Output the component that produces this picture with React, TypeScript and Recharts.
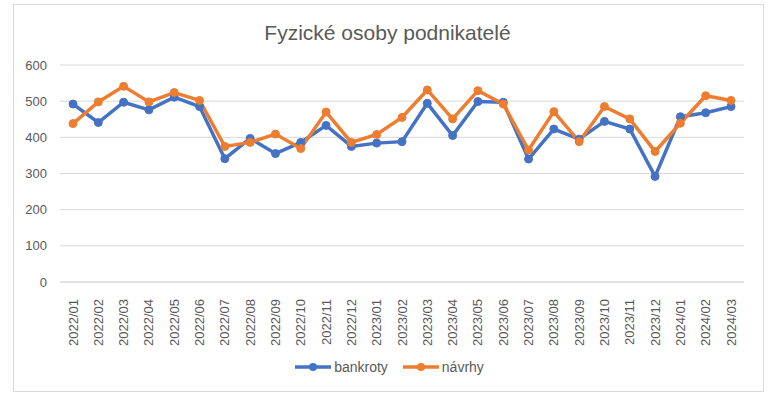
import { LineChart, Line, XAxis, YAxis, CartesianGrid, Legend } from 'recharts';

const months = [
  '2022/01', '2022/02', '2022/03', '2022/04', '2022/05', '2022/06', '2022/07', '2022/08', '2022/09',
  '2022/10', '2022/11', '2022/12', '2023/01', '2023/02', '2023/03', '2023/04', '2023/05', '2023/06',
  '2023/07', '2023/08', '2023/09', '2023/10', '2023/11', '2023/12', '2024/01', '2024/02', '2024/03',
];

const bankroty = [
  492, 441, 497, 476, 511, 485, 341, 397, 355,
  386, 433, 375, 384, 388, 494, 405, 499, 497,
  340, 423, 395, 444, 423, 292, 457, 468, 485,
];

const navrhy = [
  438, 498, 541, 498, 524, 502, 375, 386, 409,
  369, 470, 386, 408, 455, 531, 451, 529, 492,
  365, 471, 388, 485, 451, 361, 439, 515, 502,
];

const yTicks = [0, 100, 200, 300, 400, 500, 600];

const FONT = '"Liberation Sans", Arial, sans-serif';
const TEXT = '#595959';
const BLUE = '#4472C4';
const ORANGE = '#ED7D31';

const data = months.map((m, i) => ({ month: m, bankroty: bankroty[i], navrhy: navrhy[i] }));

function MonthTick(props: any) {
  const { x, y, payload } = props;
  return (
    <text
      transform={`translate(${x},${y + 9}) rotate(-90)`}
      textAnchor="end"
      dy="0.35em"
      fontSize={13}
      fontFamily={FONT}
      fill={TEXT}
    >
      {payload.value}
    </text>
  );
}

function LegendContent() {
  const items = [
    { label: 'bankroty', color: BLUE },
    { label: 'návrhy', color: ORANGE },
  ];
  return (
    <div
      style={{
        display: 'flex',
        justifyContent: 'center',
        gap: 14,
        paddingTop: 7,
        marginLeft: 34,
        fontFamily: FONT,
        fontSize: 14,
        color: TEXT,
      }}
    >
      {items.map(it => (
        <div key={it.label} style={{ display: 'flex', alignItems: 'center' }}>
          <svg width={38} height={12}>
            <line x1={1} y1={6} x2={37} y2={6} stroke={it.color} strokeWidth={3.5} />
            <circle cx={19} cy={6} r={4} fill={it.color} />
          </svg>
          <span style={{ marginLeft: 2 }}>{it.label}</span>
        </div>
      ))}
    </div>
  );
}

export default function App() {
  return (
    <div style={{ position: 'absolute', left: 0, top: 0, width: 775, height: 397, background: '#fff' }}>
      <div
        style={{
          position: 'absolute',
          left: 13,
          top: 4,
          width: 749,
          height: 386,
          border: '1px solid #d9d9d9',
        }}
      />
      <div
        style={{
          position: 'absolute',
          left: 0,
          top: 21,
          width: 775,
          textAlign: 'center',
          fontFamily: FONT,
          fontSize: 21,
          color: TEXT,
        }}
      >
        Fyzické osoby podnikatelé
      </div>
      <div style={{ position: 'absolute', left: 0, top: 0 }}>
        <LineChart width={775} height={397} data={data} margin={{ top: 65, right: 31, left: 0, bottom: 15 }}>
          <CartesianGrid vertical={false} stroke="#d9d9d9" />
          <XAxis
            dataKey="month"
            interval={0}
            height={70}
            padding={{ left: 13, right: 13 }}
            tick={<MonthTick />}
            tickLine={false}
            axisLine={{ stroke: '#d9d9d9' }}
          />
          <YAxis
            domain={[0, 600]}
            ticks={yTicks}
            width={60}
            tickLine={false}
            axisLine={false}
            tickSize={0}
            tickMargin={13}
            tick={{ fontSize: 13, fill: TEXT, fontFamily: FONT }}
          />
          <Legend verticalAlign="bottom" height={30} content={<LegendContent />} />
          <Line
            dataKey="bankroty"
            stroke={BLUE}
            strokeWidth={3.5}
            dot={{ r: 4, fill: BLUE, stroke: BLUE, strokeWidth: 1 }}
            activeDot={false}
            isAnimationActive={false}
          />
          <Line
            dataKey="navrhy"
            stroke={ORANGE}
            strokeWidth={3.5}
            dot={{ r: 4, fill: ORANGE, stroke: ORANGE, strokeWidth: 1 }}
            activeDot={false}
            isAnimationActive={false}
          />
        </LineChart>
      </div>
    </div>
  );
}
